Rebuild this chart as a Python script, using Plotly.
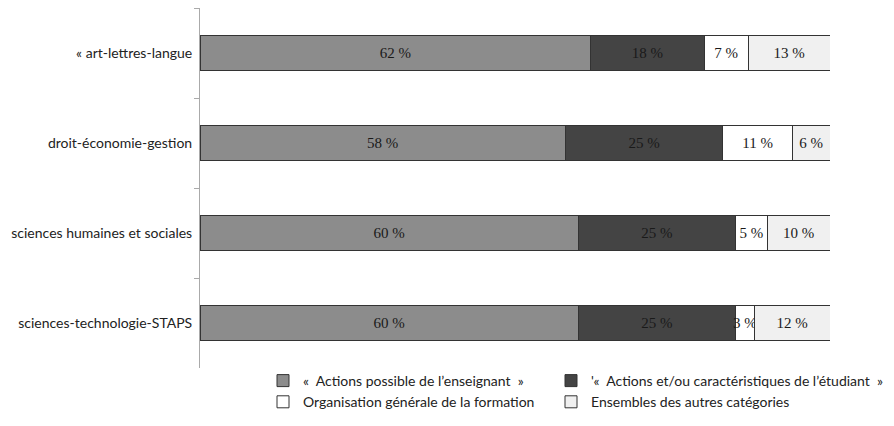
import plotly.graph_objects as go

categories = ["« art-lettres-langue", "droit-économie-gestion",
              "sciences humaines et sociales", "sciences-technologie-STAPS"]
series_names = ["«\u00a0 Actions possible de l’enseignant\u00a0 »",
                "'«\u00a0 Actions et/ou caractéristiques de l’étudiant\u00a0 »",
                "Organisation générale de la formation",
                "Ensembles des autres catégories"]
enseignant = [62, 58, 60, 60]
etudiant = [18, 25, 25, 25]
organisation = [7, 11, 5, 3]
autres = [13, 6, 10, 12]
colors = ["#8c8c8c", "#444444", "#ffffff", "#f0f0f0"]
legend_ids = ["legend", "legend2", "legend", "legend2"]

fig = go.Figure()
for name, vals, col, lg in zip(series_names, [enseignant, etudiant, organisation, autres],
                               colors, legend_ids):
    fig.add_trace(go.Bar(
        y=categories, x=vals, name=name, orientation="h", legend=lg,
        marker=dict(color=col, line=dict(color="#333333", width=1)),
        text=[f"{v} %" for v in vals], textposition="inside",
        insidetextanchor="middle", textangle=0, constraintext="none",
        textfont=dict(family="Liberation Serif", size=15, color="#1a1a1a"),
        width=0.39,
    ))

legend_style = dict(orientation="v", xref="container", yref="container",
                    y=1 - 365 / 426, xanchor="left", yanchor="top",
                    traceorder="normal", itemwidth=30, tracegroupgap=0,
                    bgcolor="rgba(0,0,0,0)",
                    font=dict(family="Lato", size=14, color="#222222"))

fig.update_layout(
    width=894, height=426, barmode="stack",
    margin=dict(l=200, r=64, t=8, b=58, autoexpand=False),
    paper_bgcolor="white", plot_bgcolor="white",
    font=dict(family="Lato", size=14, color="#222222"),
    showlegend=True,
    legend=dict(legend_style, x=263 / 894),
    legend2=dict(legend_style, x=551 / 894),
    xaxis=dict(range=[0, 100], visible=False, showgrid=False, zeroline=False),
    yaxis=dict(autorange="reversed", showline=True, linecolor="#aaaaaa", linewidth=1,
               ticks="outside", tickson="boundaries", ticklen=5, tickcolor="#aaaaaa",
               showgrid=False, ticklabelstandoff=4,
               tickfont=dict(family="Lato", size=14, color="#222222")),
)

fig.write_html("out.html")
